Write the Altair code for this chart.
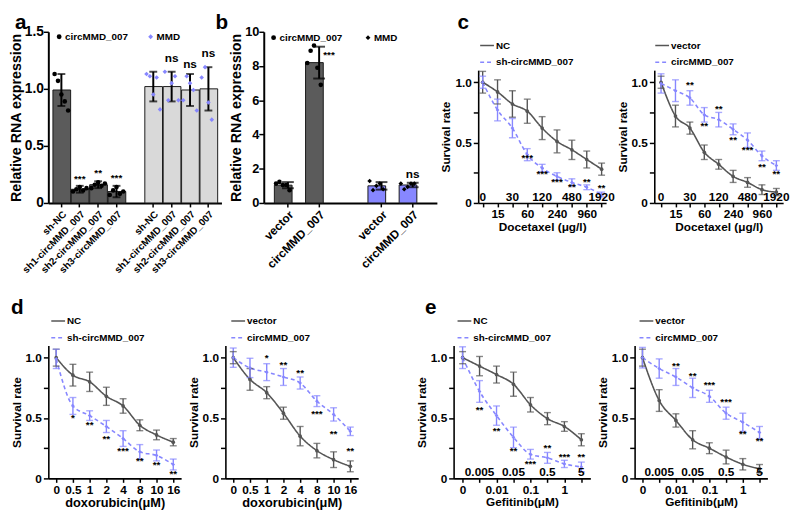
import altair as alt
import pandas as pd

FONT = "Liberation Sans"
DARK = "#5b5b5b"
LIGHT = "#d9d9d9"
BLUE = "#8787ff"
LINE_GRAY = "#555555"

# ---------------- panel a ----------------
A_GROUPS = ["circMMD_007", "MMD"]
A_CATS = ["sh-NC", "sh1-circMMD_007", "sh2-circMMD_007", "sh3-circMMD_007"]
A_MEAN = [[0.99, 0.12, 0.16, 0.10], [1.02, 1.02, 0.99, 1.00]]
A_ERR = [[0.14, 0.03, 0.03, 0.05], [0.13, 0.13, 0.14, 0.19]]
A_REPS = [
    [[1.13, 1.07, 0.95, 0.89, 0.81], [0.10, 0.12, 0.14, 0.11, 0.13],
     [0.13, 0.16, 0.18, 0.15, 0.17], [0.07, 0.11, 0.14, 0.08, 0.10]],
    [[1.13, 1.11, 0.95, 1.10, 0.82], [1.15, 0.90, 1.05, 1.11, 0.90],
     [0.90, 1.11, 1.05, 0.99, 0.81], [1.10, 1.19, 0.88, 0.73]],
]
A_SIG = [["", "***", "**", "***"], ["", "ns", "ns", "ns"]]
A_SIG_Y = [[0, 0.21, 0.26, 0.22], [0, 1.27, 1.22, 1.31]]
A_YTICKS = [0, 0.5, 1.0, 1.5]

# ---------------- panel b ----------------
B_GROUPS = ["circMMD_007", "MMD"]
B_CATS = ["vector", "circMMD_007"]
B_MEAN = [[1.04, 8.2], [1.0, 1.05]]
B_ERR = [[0.18, 0.93], [0.22, 0.13]]
B_REPS = [
    [[1.13, 1.23, 1.05, 1.05, 0.75], [8.18, 8.89, 9.2, 7.9, 6.9]],
    [[1.28, 0.75, 1.0, 1.13, 0.80], [1.13, 0.80, 0.94, 1.13, 1.13]],
]
B_SIG = [["", "***"], ["", "ns"]]
B_SIG_Y = [[0, 8.66], [0, 1.7]]
B_YTICKS = [0, 2, 4, 6, 8, 10]

# ---------------- panel c (Docetaxel) ----------------
C_DOSES = ["0", "15", "30", "60", "120", "240", "480", "960", "1920"]
C_ABOVE = ["0", "30", "120", "480", "1920"]
C1_NAMES = ["NC", "sh-circMMD_007"]
C1_MEAN = [[1.0, 0.92, 0.82, 0.76, 0.62, 0.51, 0.44, 0.36, 0.28],
           [1.0, 0.77, 0.62, 0.40, 0.29, 0.22, 0.17, 0.13, 0.07]]
C1_ERR = [[0.09, 0.10, 0.11, 0.10, 0.095, 0.095, 0.08, 0.07, 0.05],
          [0.05, 0.09, 0.08, 0.05, 0.03, 0.03, 0.03, 0.02, 0.02]]
C1_SIG_DOSES = ["60", "120", "240", "480", "960", "1920"]
C1_SIG = ["***", "***", "***", "**", "**", "**"]
C1_SIG_Y = [0.37, 0.24, 0.17, 0.13, 0.17, 0.12]

C2_NAMES = ["vector", "circMMD_007"]
C2_MEAN = [[1.0, 0.72, 0.62, 0.42, 0.32, 0.22, 0.17, 0.11, 0.09],
           [0.99, 0.93, 0.87, 0.73, 0.69, 0.61, 0.52, 0.39, 0.31]]
C2_ERR = [[0.05, 0.09, 0.05, 0.06, 0.04, 0.05, 0.04, 0.04, 0.03],
          [0.08, 0.09, 0.06, 0.06, 0.06, 0.045, 0.06, 0.04, 0.04]]
C2_SIG_DOSES = ["30", "60", "120", "240", "480", "960", "1920"]
C2_SIG = ["**", "**", "**", "**", "***", "**", "**"]
C2_SIG_Y = [0.98, 0.64, 0.78, 0.52, 0.44, 0.30, 0.24]

# ---------------- panel d (doxorubicin) ----------------
D_DOSES = ["0", "0.5", "1", "2", "4", "8", "10", "16"]
D1_NAMES = ["NC", "sh-circMMD_007"]
D1_MEAN = [[1.0, 0.855, 0.80, 0.68, 0.60, 0.44, 0.36, 0.30],
           [0.99, 0.60, 0.52, 0.43, 0.33, 0.22, 0.19, 0.115]]
D1_ERR = [[0.07, 0.09, 0.08, 0.075, 0.06, 0.045, 0.04, 0.03],
          [0.08, 0.07, 0.04, 0.05, 0.065, 0.06, 0.045, 0.045]]
D1_SIG_DOSES = ["0.5", "1", "2", "4", "8", "10", "16"]
D1_SIG = ["*", "**", "**", "***", "**", "**", "**"]
D1_SIG_Y = [0.50, 0.44, 0.33, 0.23, 0.14, 0.11, 0.04]

D2_NAMES = ["vector", "circMMD_007"]
D2_MEAN = [[1.0, 0.82, 0.71, 0.54, 0.35, 0.23, 0.155, 0.10],
           [1.0, 0.915, 0.88, 0.84, 0.79, 0.64, 0.53, 0.39]]
D2_ERR = [[0.05, 0.09, 0.05, 0.05, 0.08, 0.06, 0.065, 0.045],
          [0.08, 0.08, 0.07, 0.07, 0.05, 0.045, 0.055, 0.035]]
D2_SIG_DOSES = ["1", "2", "4", "8", "10", "16"]
D2_SIG = ["*", "**", "**", "***", "**", "**"]
D2_SIG_Y = [0.995, 0.94, 0.87, 0.53, 0.37, 0.23]

# ---------------- panel e (Gefitinib) ----------------
E_DOSES = ["0", "0.005", "0.01", "0.05", "0.1", "0.5", "1", "5"]
E_ABOVE = ["0.005", "0.05", "0.5", "5"]
E1_NAMES = ["NC", "sh-circMMD_007"]
E1_MEAN = [[1.0, 0.93, 0.86, 0.78, 0.61, 0.495, 0.43, 0.32],
           [1.0, 0.72, 0.52, 0.34, 0.20, 0.17, 0.12, 0.095]]
E1_ERR = [[0.05, 0.08, 0.07, 0.10, 0.06, 0.05, 0.04, 0.05],
          [0.09, 0.09, 0.08, 0.085, 0.04, 0.045, 0.03, 0.04]]
E1_SIG_DOSES = ["0.005", "0.01", "0.05", "0.1", "0.5", "1", "5"]
E1_SIG = ["**", "**", "**", "***", "**", "***", "**"]
E1_SIG_Y = [0.565, 0.39, 0.23, 0.12, 0.25, 0.18, 0.18]

E2_NAMES = ["vector", "circMMD_007"]
E2_MEAN = [[1.0, 0.645, 0.48, 0.32, 0.25, 0.177, 0.117, 0.08],
           [1.0, 0.91, 0.84, 0.75, 0.68, 0.54, 0.465, 0.38]]
E2_ERR = [[0.07, 0.09, 0.055, 0.075, 0.045, 0.057, 0.047, 0.035],
          [0.085, 0.08, 0.07, 0.08, 0.05, 0.05, 0.075, 0.05]]
E2_SIG_DOSES = ["0.01", "0.05", "0.1", "0.5", "1", "5"]
E2_SIG = ["**", "**", "***", "***", "**", "**"]
E2_SIG_Y = [0.93, 0.85, 0.77, 0.63, 0.37, 0.31]

LETTERS = ["a", "b", "c", "d", "e"]


def frame(left, right, top, bottom):
    # invisible layout frame fixing each panel's cell bounds
    return alt.Chart(pd.DataFrame({"f": [0]})).mark_rule(opacity=0, strokeWidth=0.1).encode(
        x=alt.value(left), x2=alt.value(right), y=alt.value(top), y2=alt.value(bottom))


def letter(txt, x, y):
    return alt.Chart(pd.DataFrame({"t": [txt]})).mark_text(
        font=FONT, fontSize=21, fontWeight="bold", color="black", align="left",
        baseline="alphabetic").encode(x=alt.value(x), y=alt.value(y), text="t:N")


def legend_text(name, x, y):
    return alt.Chart(pd.DataFrame({"n": [name]})).mark_text(
        font=FONT, fontSize=10, fontWeight="bold", color="black", align="left",
        baseline="middle").encode(x=alt.value(x), y=alt.value(y), text="n:N")


def bar_panel(groups, cats, means, errs, reps, sigs, sig_ys, fill_range, pt_color_range,
              pt_shape_range, ymax, yticks, ylab_expr, ytitle, ylab_fs, ytitle_fs, xlab_fs,
              pad_inner, pad_outer, leg_pos, cap, star_dx, frame_box, letters,
              width=176, height=174):
    bars, pts, sig = [], [], []
    for gi, g in enumerate(groups):
        for ci, c in enumerate(cats):
            key = f"{g}|{c}"
            m, e = means[gi][ci], errs[gi][ci]
            bars.append({"key": key, "group": g, "mean": m, "lo": m - e, "hi": m + e})
            for ri, v in enumerate(reps[gi][ci]):
                pts.append({"key": key, "group": g, "rep": ri, "val": v})
            if sigs[gi][ci]:
                sig.append({"key": key, "label": sigs[gi][ci], "y": sig_ys[gi][ci]})
    bars = pd.DataFrame(bars)
    pts = pd.DataFrame(pts)
    sig = pd.DataFrame(sig)
    keys0 = [f"{groups[0]}|{c}" for c in cats]
    keys1 = [f"{groups[1]}|{c}" for c in cats]
    domain = keys0 + ["gap|"] + keys1

    def xenc():
        return alt.X("key:N",
                     scale=alt.Scale(domain=domain, paddingInner=pad_inner, paddingOuter=pad_outer),
                     axis=alt.Axis(values=keys0 + keys1, labelExpr="split(datum.value, '|')[1]",
                                   labelAngle=-45, labelFontSize=xlab_fs, title=None,
                                   domainWidth=2, tickWidth=1.5, tickSize=4, labelPadding=2))

    def yenc(f):
        return alt.Y(f, scale=alt.Scale(domain=[0, ymax], nice=False),
                     axis=alt.Axis(values=yticks, labelExpr=ylab_expr, title=ytitle,
                                   labelFontSize=ylab_fs, titleFontSize=ytitle_fs,
                                   titlePadding=1, labelPadding=0, tickSize=5,
                                   domainWidth=2, tickWidth=1.5))

    csc = alt.Scale(domain=groups, range=pt_color_range)
    ssc = alt.Scale(domain=groups, range=pt_shape_range)

    barl = alt.Chart(bars).mark_bar(stroke="#1a1a1a", strokeWidth=1).encode(
        x=xenc(), y=yenc("mean:Q"),
        fill=alt.Fill("group:N", scale=alt.Scale(domain=groups, range=fill_range), legend=None))
    errl = alt.Chart(bars).mark_rule(color="black", strokeWidth=2).encode(
        x=xenc(), y=yenc("lo:Q"), y2="hi:Q")
    caplo = alt.Chart(bars).mark_tick(color="black", thickness=2, size=cap).encode(
        x=xenc(), y=yenc("lo:Q"))
    caphi = alt.Chart(bars).mark_tick(color="black", thickness=2, size=cap).encode(
        x=xenc(), y=yenc("hi:Q"))
    ptl = alt.Chart(pts).mark_point(filled=True, size=22, opacity=1).encode(
        x=xenc(), xOffset=alt.XOffset("rep:N"), y=yenc("val:Q"),
        color=alt.Color("group:N", scale=csc, legend=None),
        shape=alt.Shape("group:N", scale=ssc, legend=None))
    stars = alt.Chart(sig).transform_filter("datum.label != 'ns'").mark_text(
        font=FONT, fontSize=10, fontWeight="bold", color="black", baseline="middle",
        dx=star_dx).encode(x=xenc(), y=yenc("y:Q"), text="label:N")
    nsl = alt.Chart(sig).transform_filter("datum.label == 'ns'").mark_text(
        font=FONT, fontSize=12, fontWeight="bold", color="black", baseline="middle").encode(
        x=xenc(), y=yenc("y:Q"), text="label:N")
    layers = [frame(*frame_box), barl, errl, caplo, caphi, ptl, stars, nsl]
    # legend: symbol + label for each group
    for g, (lx, ly) in zip(groups, leg_pos):
        layers.append(alt.Chart(pd.DataFrame({"group": [g]})).mark_point(
            filled=True, size=24, opacity=1).encode(
            x=alt.value(lx), y=alt.value(ly),
            color=alt.Color("group:N", scale=csc, legend=None),
            shape=alt.Shape("group:N", scale=ssc, legend=None)))
        layers.append(legend_text(g, lx + 6, ly))
    layers += [letter(t, x, y) for (t, x, y) in letters]
    return alt.layer(*layers).properties(width=width, height=height)


def survival_panel(doses, above, names, means, errs, sig_doses, sig_labels, sig_y, xtitle,
                   xtitle_fs, width, height, axis_top, pad, leg_x, leg_y, frame_box, letters,
                   lab_fs=12):
    rows = []
    for si, name in enumerate(names):
        for d, m, e in zip(doses, means[si], errs[si]):
            rows.append({"dose": d, "series": name, "mean": m, "lo": m - e, "hi": m + e})
    df = pd.DataFrame(rows)
    caps = pd.concat([df.assign(cap=df["lo"]), df.assign(cap=df["hi"])], ignore_index=True)
    sig = pd.DataFrame({"dose": sig_doses, "label": sig_labels, "y": sig_y})
    labs = pd.DataFrame({"dose": above})
    below = [d for d in doses if d not in above]
    arr = "[" + ",".join(f"'{d}'" for d in below) + "]"

    def xenc():
        return alt.X("dose:O", sort=doses,
                     scale=alt.Scale(type="point", domain=doses, padding=pad),
                     axis=alt.Axis(title=xtitle, labelExpr=f"indexof({arr}, datum.value) >= 0 ? datum.value : ''",
                                   labelAngle=0, labelFontSize=lab_fs, titleFontSize=xtitle_fs,
                                   titlePadding=2, labelPadding=2, tickSize=4))

    def yenc(f):
        return alt.Y(f, scale=alt.Scale(domain=[0, 1.1], nice=False, range=[height, axis_top]),
                     axis=alt.Axis(values=[0, 0.25, 0.5, 0.75, 1.0],
                                   labelExpr="datum.value == 0 ? '0' : datum.value == 0.5 ? '0.5' : datum.value == 1 ? '1.0' : ''",
                                   title="Survival rate", labelFontSize=lab_fs, titleFontSize=12,
                                   titlePadding=2, labelPadding=2, tickSize=5))

    cols = alt.Scale(domain=names, range=[LINE_GRAY, BLUE])
    dashes = alt.Scale(domain=names, range=[[1, 0], [4, 3]])
    line = alt.Chart(df).mark_line(strokeWidth=1.6, interpolate="monotone").encode(
        x=xenc(), y=yenc("mean:Q"),
        color=alt.Color("series:N", scale=cols, legend=None),
        strokeDash=alt.StrokeDash("series:N", scale=dashes, legend=None))
    rules = alt.Chart(df).mark_rule(strokeWidth=1.4).encode(
        x=xenc(), y=yenc("lo:Q"), y2="hi:Q",
        stroke=alt.Stroke("series:N", scale=cols, legend=None))
    capl = alt.Chart(caps).mark_tick(thickness=1.4, size=7).encode(
        x=xenc(), y=yenc("cap:Q"),
        fill=alt.Fill("series:N", scale=cols, legend=None))
    ptl = alt.Chart(df).mark_point(filled=True, size=14, strokeWidth=0, opacity=1).encode(
        x=xenc(), y=yenc("mean:Q"),
        fill=alt.Fill("series:N", scale=cols, legend=None),
        shape=alt.Shape("series:N", scale=alt.Scale(domain=names, range=["circle", "diamond"]), legend=None))
    sigl = alt.Chart(sig).mark_text(font=FONT, fontSize=10, fontWeight="bold", color="black",
                                    baseline="middle").encode(x=xenc(), y=yenc("y:Q"), text="label:N")
    layers = [frame(*frame_box), line, rules, capl, ptl, sigl]
    if above:
        layers.append(alt.Chart(labs).mark_text(font=FONT, fontSize=lab_fs, fontWeight="bold",
                                                color="black", baseline="alphabetic", dy=-2).encode(
            x=xenc(), y=alt.value(height), text="dose:N"))
    # legend: line sample + label for each series
    for i, name in enumerate(names):
        ly = leg_y + 17 * i
        layers.append(alt.Chart(pd.DataFrame({"series": [name]})).mark_rule(strokeWidth=1.6).encode(
            x=alt.value(leg_x), x2=alt.value(leg_x + 14), y=alt.value(ly),
            color=alt.Color("series:N", scale=cols, legend=None),
            strokeDash=alt.StrokeDash("series:N", scale=dashes, legend=None)))
        layers.append(legend_text(name, leg_x + 16, ly))
    layers += [letter(t, x, y) for (t, x, y) in letters]
    return alt.layer(*layers).properties(width=width, height=height)


pa = bar_panel(A_GROUPS, A_CATS, A_MEAN, A_ERR, A_REPS, A_SIG, A_SIG_Y,
               [DARK, LIGHT], ["black", BLUE], ["circle", "diamond"], 1.5, A_YTICKS,
               "datum.value == 0 ? '0' : format(datum.value, '.1f')", "Relative RNA expression",
               14, 14.5, 10, 0.08, 0.25, [(11, 5), (104, 5)], 8, 0,
               (-39, 183, -20, 262), [(LETTERS[0], -34, -3), (LETTERS[1], 170, -3)])
pb = bar_panel(B_GROUPS, B_CATS, B_MEAN, B_ERR, B_REPS, B_SIG, B_SIG_Y,
               [DARK, BLUE], ["black", "black"], ["circle", "diamond"], 10, B_YTICKS,
               "format(datum.value, 'd')", "Relative RNA expression",
               13, 14.5, 12, 0.13, 0.34, [(10, 6), (106, 6)], 12, 10,
               (-35, 177, -20, 262), [])
pc1 = survival_panel(C_DOSES, C_ABOVE, C1_NAMES, C1_MEAN, C1_ERR, C1_SIG_DOSES, C1_SIG, C1_SIG_Y,
                     "Docetaxel (μg/l)", 12, 130, 174, 39, 0.3, 2, 14, (-41, 140, -20, 262),
                     [(LETTERS[2], -21, -3)])
pc2 = survival_panel(C_DOSES, C_ABOVE, C2_NAMES, C2_MEAN, C2_ERR, C2_SIG_DOSES, C2_SIG, C2_SIG_Y,
                     "Docetaxel (μg/l)", 12, 131, 174, 39, 0.47, 1, 14, (-33, 140, -20, 262), [])
pd1 = survival_panel(D_DOSES, [], D1_NAMES, D1_MEAN, D1_ERR, D1_SIG_DOSES, D1_SIG, D1_SIG_Y,
                     "doxorubicin(μM)", 13, 135, 135, 0, 0.47, 3, -25, (-39, 141, -57, 160),
                     [(LETTERS[3], -38, -32)])
pd2 = survival_panel(D_DOSES, [], D2_NAMES, D2_MEAN, D2_ERR, D2_SIG_DOSES, D2_SIG, D2_SIG_Y,
                     "doxorubicin(μM)", 13, 135, 135, 0, 0.47, 6, -25, (-36, 191, -57, 160), [])
pe1 = survival_panel(E_DOSES, E_ABOVE, E1_NAMES, E1_MEAN, E1_ERR, E1_SIG_DOSES, E1_SIG, E1_SIG_Y,
                     "Gefitinib(μM)", 12, 139, 135, 0, 0.53, 4, -25, (-41, 144, -57, 160),
                     [(LETTERS[4], -29, -32)])
pe2 = survival_panel(E_DOSES, E_ABOVE, E2_NAMES, E2_MEAN, E2_ERR, E2_SIG_DOSES, E2_SIG, E2_SIG_Y,
                     "Gefitinib(μM)", 12, 135, 135, 0, 0.47, 5, -25, (-40, 140, -57, 160), [])

RES = dict(color="independent", fill="independent", stroke="independent",
           shape="independent", strokeDash="independent")

row1 = alt.hconcat(pa, pb, pc1, pc2, spacing=0).resolve_scale(**RES)
row2 = alt.hconcat(pd1, pd2, pe1, pe2, spacing=0).resolve_scale(**RES)

chart = (
    alt.vconcat(row1, row2, spacing=0)
    .resolve_scale(**RES)
    .properties(padding=0)
    .configure(font=FONT)
    .configure_view(strokeWidth=0)
    .configure_axis(domainColor="black", tickColor="black", labelColor="black",
                    titleColor="black", labelFont=FONT, titleFont=FONT,
                    labelFontWeight="bold", titleFontWeight="bold", grid=False,
                    domainWidth=1.6, tickWidth=1.5, labelOverlap=False)
)

chart.save("out.html", embed_options={"renderer": "svg", "actions": False})
